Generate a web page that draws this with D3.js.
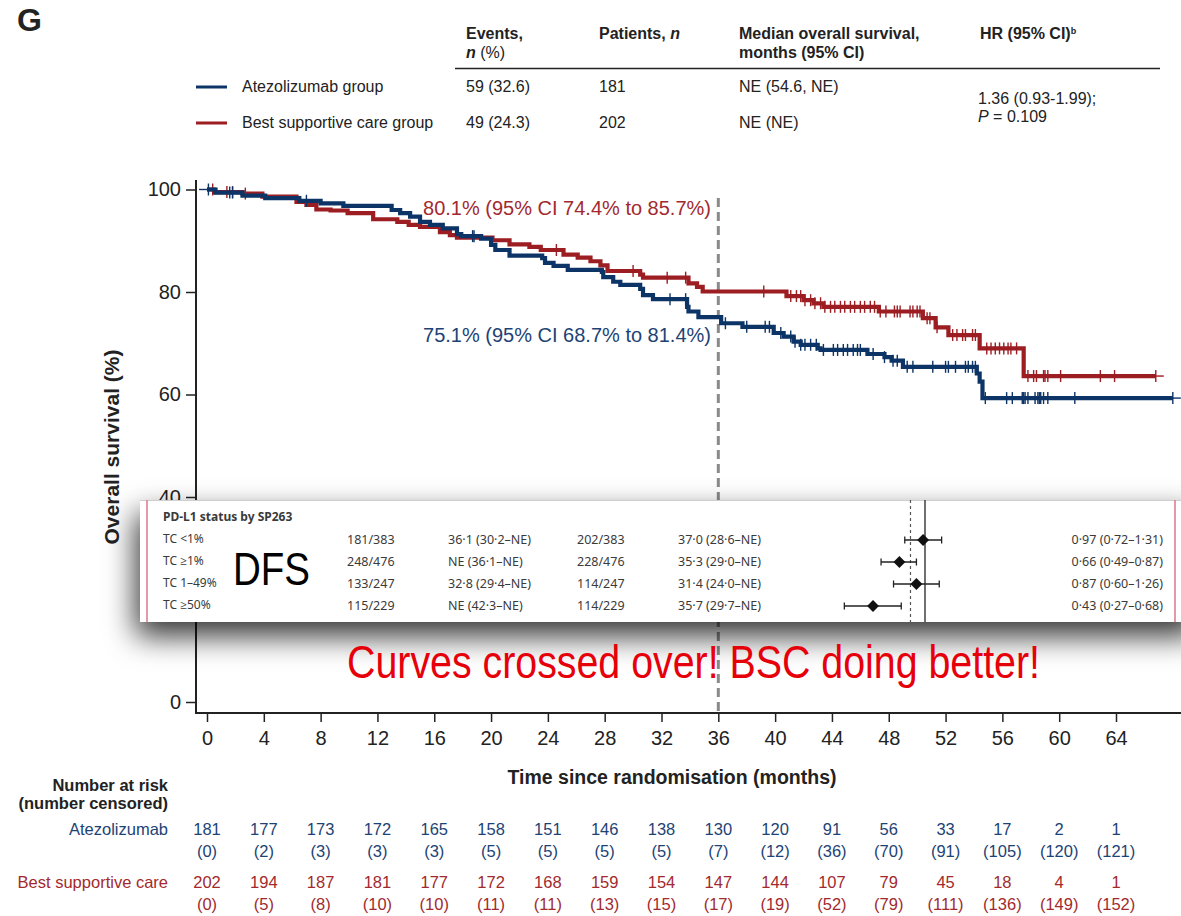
<!DOCTYPE html>
<html>
<head>
<meta charset="utf-8">
<script src="https://cdn.jsdelivr.net/npm/d3@7"></script>
<style>
  body { margin: 0; background: #fff; }
  svg { display: block; font-family: "Liberation Sans", Arial, sans-serif; }
  .narrow { font-family: "Liberation Sans Narrow", "Liberation Sans", Arial, sans-serif; }
  .inset { font-family: "Noto Sans", "Open Sans", sans-serif; fill: #3a3a3a; }
</style>
</head>
<body>
<div id="chart"></div>
<script>
// ---- data ----
const xTicks = [0, 4, 8, 12, 16, 20, 24, 28, 32, 36, 40, 44, 48, 52, 56, 60, 64];
const yTicks = [0, 20, 40, 60, 80, 100];

// Kaplan-Meier steps (months, % surviving)
const atezoTime = [0, 0.6, 2.5, 4.1, 6.5, 8.0, 9.6, 13.0, 13.6, 14.3, 15.0, 15.7, 16.6, 17.6, 17.9, 19.3, 20.0, 20.3, 21.3, 23.6, 23.8, 24.4, 25.4, 27.8, 27.9, 28.6, 29.1, 30.5, 30.7, 31.4, 33.8, 33.9, 34.6, 36.2, 37.7, 39.9, 40.6, 41.3, 41.8, 43.0, 43.2, 46.5, 47.7, 48.2, 49.0, 54.2, 54.4, 54.6, 68.0];
const atezoSurv = [100, 99.4, 98.8, 98.3, 97.8, 97.3, 96.8, 96.0, 95.4, 94.7, 93.7, 93.1, 92.4, 91.3, 90.9, 90.4, 89.2, 88.2, 87.1, 86.6, 85.7, 85.1, 84.3, 83.9, 82.9, 82.0, 81.4, 80.6, 79.4, 78.6, 77.1, 76.2, 75.1, 73.9, 73.2, 72.0, 71.3, 70.3, 69.7, 69.0, 68.7, 67.9, 67.3, 66.6, 65.4, 64.1, 62.5, 59.3, 59.3];
const bscTime = [0, 0.5, 2.5, 3.9, 6.3, 7.0, 7.7, 8.7, 9.9, 11.7, 13.4, 14.2, 15.0, 16.4, 17.1, 17.6, 20.1, 21.3, 22.7, 23.5, 25.1, 26.1, 27.0, 27.7, 28.2, 30.5, 30.7, 33.9, 34.5, 34.9, 40.8, 42.0, 42.7, 43.4, 47.3, 50.4, 51.3, 52.2, 54.4, 57.5, 66.8];
const bscSurv = [100, 99.5, 99.2, 98.6, 97.6, 97.0, 96.1, 95.9, 95.4, 94.2, 93.7, 93.1, 92.7, 91.7, 91.1, 90.6, 90.1, 89.3, 88.8, 88.2, 87.3, 86.7, 86.0, 85.2, 84.1, 83.4, 82.8, 81.7, 81.0, 80.1, 79.2, 78.4, 77.8, 77.1, 76.2, 74.9, 73.1, 71.6, 69.0, 63.6, 63.6];

// censoring marks (months)
const atezoCensor = [0.1, 1.6, 1.8, 7.0, 18.7, 18.8, 32.6, 33.7, 36.5, 38.0, 39.3, 39.6, 40.4, 41.1, 41.4, 41.8, 42.1, 42.5, 42.9, 43.4, 44.1, 44.4, 44.8, 45.1, 45.5, 45.8, 46.0, 46.9, 47.7, 48.3, 48.6, 49.3, 49.7, 51.1, 52.0, 52.2, 52.7, 53.4, 53.6, 53.9, 54.1, 54.8, 56.3, 56.7, 57.4, 57.5, 57.6, 57.8, 58.3, 58.5, 58.6, 58.7, 58.9, 59.2, 61.1, 68.0];
const bscCensor = [0.4, 1.4, 1.8, 2.7, 24.6, 30.0, 32.4, 33.7, 39.2, 41.1, 41.5, 41.8, 42.1, 42.5, 42.8, 43.2, 43.5, 43.9, 44.2, 44.6, 44.9, 45.3, 45.6, 46.0, 46.3, 46.7, 47.0, 47.4, 47.8, 48.4, 48.6, 48.8, 49.5, 49.7, 50.0, 50.2, 50.7, 50.9, 51.4, 52.5, 52.8, 53.2, 53.4, 53.9, 54.1, 54.9, 55.2, 55.5, 55.8, 56.1, 56.4, 56.6, 57.0, 57.8, 58.2, 58.4, 58.9, 59.0, 59.2, 60.1, 62.9, 63.9, 66.8];

// number at risk (number censored)
const riskAtezo = [181, 177, 173, 172, 165, 158, 151, 146, 138, 130, 120, 91, 56, 33, 17, 2, 1];
const censAtezo = [0, 2, 3, 3, 3, 5, 5, 5, 5, 7, 12, 36, 70, 91, 105, 120, 121];
const riskBsc = [202, 194, 187, 181, 177, 172, 168, 159, 154, 147, 144, 107, 79, 45, 18, 4, 1];
const censBsc = [0, 5, 8, 10, 10, 11, 11, 13, 15, 17, 19, 52, 79, 111, 136, 149, 152];

// summary table
const groupNames = ["Atezolizumab group", "Best supportive care group"];
const groupEvents = ["59 (32.6)", "49 (24.3)"];
const groupPatients = ["181", "202"];
const groupMedian = ["NE (54.6, NE)", "NE (NE)"];

// pasted PD-L1 subgroup panel
const pdl1Labels = ["TC <1%", "TC ≥1%", "TC 1–49%", "TC ≥50%"];
const pdl1AtezoN = ["181/383", "248/476", "133/247", "115/229"];
const pdl1AtezoMed = ["36·1 (30·2–NE)", "NE (36·1–NE)", "32·8 (29·4–NE)", "NE (42·3–NE)"];
const pdl1BscN = ["202/383", "228/476", "114/247", "114/229"];
const pdl1BscMed = ["37·0 (28·6–NE)", "35·3 (29·0–NE)", "31·4 (24·0–NE)", "35·7 (29·7–NE)"];
const pdl1Hr = [0.97, 0.66, 0.87, 0.43];
const pdl1Lo = [0.72, 0.49, 0.60, 0.27];
const pdl1Hi = [1.31, 0.87, 1.26, 0.68];
const pdl1HrText = ["0·97 (0·72–1·31)", "0·66 (0·49–0·87)", "0·87 (0·60–1·26)", "0·43 (0·27–0·68)"];
const overallHr = 0.79;

const BLUE = "#0c3466";
const RED = "#9c1d22";
const BLUE_TXT = "#1d4375";
const RED_TXT = "#a22a2e";

const W = 1181, H = 916;
const svg = d3.select("#chart").append("svg").attr("width", W).attr("height", H);

const x = d3.scaleLinear().domain([0, 64]).range([207, 1116]);
const y = d3.scaleLinear().domain([0, 100]).range([702, 189.5]);

// ---- header ----
svg.append("text").attr("x", 17).attr("y", 31).attr("font-size", 32).attr("font-weight", "bold").attr("fill", "#222").text("G");

const head = svg.append("g").attr("font-size", 16).attr("font-weight", "bold").attr("fill", "#222");
head.append("text").attr("x", 466).attr("y", 39).text("Events,");
const n2 = head.append("text").attr("x", 466).attr("y", 58);
n2.append("tspan").attr("font-style", "italic").text("n");
n2.append("tspan").attr("font-weight", "normal").text(" (%)");
const pt = head.append("text").attr("x", 599).attr("y", 39);
pt.append("tspan").text("Patients, ");
pt.append("tspan").attr("font-style", "italic").text("n");
head.append("text").attr("x", 739).attr("y", 39).text("Median overall survival,");
head.append("text").attr("x", 739).attr("y", 58).text("months (95% CI)");
const hrh = head.append("text").attr("x", 980).attr("y", 39);
hrh.append("tspan").text("HR (95% CI)");
hrh.append("tspan").attr("font-size", 9).attr("dy", -5).text("b");
svg.append("line").attr("x1", 455).attr("x2", 1160).attr("y1", 68.5).attr("y2", 68.5).attr("stroke", "#222").attr("stroke-width", 1.3);

const rowY = [92, 128];
const rowCol = [BLUE, RED];
rowY.forEach((ry, i) => {
  svg.append("line").attr("x1", 196).attr("x2", 227).attr("y1", ry - 5).attr("y2", ry - 5).attr("stroke", rowCol[i]).attr("stroke-width", 3);
  const g = svg.append("g").attr("font-size", 16).attr("fill", "#222");
  g.append("text").attr("x", 242).attr("y", ry).text(groupNames[i]);
  g.append("text").attr("x", 466).attr("y", ry).text(groupEvents[i]);
  g.append("text").attr("x", 599).attr("y", ry).text(groupPatients[i]);
  g.append("text").attr("x", 739).attr("y", ry).text(groupMedian[i]);
});
svg.append("text").attr("x", 978).attr("y", 104).attr("font-size", 16).attr("fill", "#222").text("1.36 (0.93-1.99);");
const pv = svg.append("text").attr("x", 978).attr("y", 122).attr("font-size", 16).attr("fill", "#222");
pv.append("tspan").attr("font-style", "italic").text("P");
pv.append("tspan").text(" = 0.109");

// ---- axes ----
const yAxis = svg.append("g").attr("transform", "translate(196,0)")
  .call(d3.axisLeft(y).tickValues(yTicks).tickSize(10).tickPadding(5));
yAxis.select(".domain").remove();
yAxis.selectAll(".tick line").attr("stroke", "#222").attr("stroke-width", 1.5);
yAxis.selectAll(".tick text").attr("font-size", 20).attr("fill", "#222").attr("font-family", "Liberation Sans, Arial, sans-serif");
// the 20 label sits under the pasted panel in the original, so it is not shown
yAxis.selectAll(".tick").filter(d => d === 20).select("text").remove();
svg.append("line").attr("x1", 196).attr("x2", 196).attr("y1", 180).attr("y2", 714).attr("stroke", "#222").attr("stroke-width", 2);

const xAxis = svg.append("g").attr("transform", "translate(0,713)")
  .call(d3.axisBottom(x).tickValues(xTicks).tickSize(9).tickPadding(9));
xAxis.select(".domain").remove();
xAxis.selectAll(".tick line").attr("stroke", "#222").attr("stroke-width", 1.5);
xAxis.selectAll(".tick text").attr("font-size", 20).attr("fill", "#222").attr("class", "narrow");
svg.append("line").attr("x1", 195).attr("x2", W).attr("y1", 713).attr("y2", 713).attr("stroke", "#222").attr("stroke-width", 2);

svg.append("text").attr("transform", "translate(119,447) rotate(-90)").attr("text-anchor", "middle")
  .attr("font-size", 21).attr("font-weight", "bold").attr("fill", "#222").text("Overall survival (%)");
svg.append("text").attr("x", 672).attr("y", 784).attr("text-anchor", "middle")
  .attr("font-size", 19.5).attr("font-weight", "bold").attr("fill", "#222").text("Time since randomisation (months)");

// landmark line at 36 months
svg.append("line").attr("x1", x(36)).attr("x2", x(36)).attr("y1", 198).attr("y2", 713)
  .attr("stroke", "#8a8a8a").attr("stroke-width", 3).attr("stroke-dasharray", "9,5");

// ---- KM curves ----
function stepAt(times, surv, t) {
  let v = surv[0];
  for (let i = 0; i < times.length; i++) { if (times[i] <= t) v = surv[i]; }
  return v;
}
const line = d3.line().x(d => x(d[0])).y(d => y(d[1])).curve(d3.curveStepAfter);
function drawCurve(times, surv, censor, color) {
  const pts = times.map((t, i) => [t, surv[i]]);
  svg.append("path").attr("d", line(pts)).attr("fill", "none").attr("stroke", color).attr("stroke-width", 4.2);
  svg.append("g").selectAll("line").data(censor).join("line")
    .attr("x1", d => x(d)).attr("x2", d => x(d))
    .attr("y1", d => y(stepAt(times, surv, d)) - 6).attr("y2", d => y(stepAt(times, surv, d)) + 6)
    .attr("stroke", color).attr("stroke-width", 1.4);
  svg.append("line").attr("x1", x(times[times.length - 1]) - 3).attr("x2", x(times[times.length - 1]) + 8)
    .attr("y1", y(surv[surv.length - 1])).attr("y2", y(surv[surv.length - 1])).attr("stroke", color).attr("stroke-width", 1.4);
}
drawCurve(bscTime, bscSurv, bscCensor, RED);
drawCurve(atezoTime, atezoSurv, atezoCensor, BLUE);
svg.append("line").attr("x1", x(0) - 8).attr("x2", x(0)).attr("y1", y(100)).attr("y2", y(100)).attr("stroke", BLUE).attr("stroke-width", 1.4);

svg.append("text").attr("x", 711).attr("y", 215).attr("text-anchor", "end").attr("font-size", 20)
  .attr("fill", RED_TXT).text("80.1% (95% CI 74.4% to 85.7%)");
svg.append("text").attr("x", 711).attr("y", 342).attr("text-anchor", "end").attr("font-size", 20)
  .attr("fill", BLUE_TXT).text("75.1% (95% CI 68.7% to 81.4%)");

// ---- pasted subgroup panel with drop shadow ----
const defs = svg.append("defs");
const f = defs.append("filter").attr("id", "shadow").attr("x", "-20%").attr("y", "-30%").attr("width", "140%").attr("height", "200%");
f.append("feDropShadow").attr("dx", -4).attr("dy", 14).attr("stdDeviation", 15)
  .attr("flood-color", "#000").attr("flood-opacity", 0.8);

const box = { x0: 140, x1: 1181, y0: 500, y1: 622 };
svg.append("rect").attr("x", box.x0).attr("y", box.y0).attr("width", box.x1 - box.x0 + 20).attr("height", box.y1 - box.y0)
  .attr("fill", "#fff").attr("filter", "url(#shadow)");
svg.append("rect").attr("x", box.x0).attr("y", box.y0).attr("width", box.x1 - box.x0).attr("height", box.y1 - box.y0).attr("fill", "#fff");
svg.append("line").attr("x1", box.x0).attr("x2", box.x1).attr("y1", box.y0 + 0.5).attr("y2", box.y0 + 0.5).attr("stroke", "#cfcfcf");
svg.append("line").attr("x1", 147).attr("x2", 147).attr("y1", box.y0).attr("y2", box.y1).attr("stroke", "#d9788c").attr("stroke-width", 1.5);
svg.append("line").attr("x1", 1175).attr("x2", 1175).attr("y1", box.y0).attr("y2", box.y1).attr("stroke", "#d9788c").attr("stroke-width", 1.5);

const ins = svg.append("g").attr("class", "inset").attr("font-size", 12.5);
ins.append("text").attr("x", 163).attr("y", 521).attr("font-weight", "bold").attr("font-size", 12).text("PD-L1 status by SP263");
const rowsY = [544, 566, 588, 610];
pdl1Labels.forEach((lab, i) => {
  const ry = rowsY[i];
  ins.append("text").attr("x", 163).attr("y", ry - 1).attr("font-size", 12).text(lab);
  ins.append("text").attr("x", 347).attr("y", ry).text(pdl1AtezoN[i]);
  ins.append("text").attr("x", 448).attr("y", ry).text(pdl1AtezoMed[i]);
  ins.append("text").attr("x", 577).attr("y", ry).text(pdl1BscN[i]);
  ins.append("text").attr("x", 678).attr("y", ry).text(pdl1BscMed[i]);
  ins.append("text").attr("x", 1163).attr("y", ry).attr("text-anchor", "end").text(pdl1HrText[i]);
});

const hrX = d3.scaleLog().domain([0.2, 1.5]).range([925 - Math.log(5) * 61.6, 925 + Math.log(1.5) * 61.6]);
svg.append("line").attr("x1", hrX(1)).attr("x2", hrX(1)).attr("y1", box.y0).attr("y2", box.y1).attr("stroke", "#222").attr("stroke-width", 1.3);
svg.append("line").attr("x1", hrX(overallHr)).attr("x2", hrX(overallHr)).attr("y1", box.y0).attr("y2", box.y1)
  .attr("stroke", "#555").attr("stroke-width", 1.2).attr("stroke-dasharray", "3,3");
const forest = svg.append("g").attr("stroke", "#222").attr("stroke-width", 1.3);
pdl1Hr.forEach((h, i) => {
  const cy = rowsY[i] - 4;
  forest.append("line").attr("x1", hrX(pdl1Lo[i])).attr("x2", hrX(pdl1Hi[i])).attr("y1", cy).attr("y2", cy);
  forest.append("line").attr("x1", hrX(pdl1Lo[i])).attr("x2", hrX(pdl1Lo[i])).attr("y1", cy - 3.5).attr("y2", cy + 3.5);
  forest.append("line").attr("x1", hrX(pdl1Hi[i])).attr("x2", hrX(pdl1Hi[i])).attr("y1", cy - 3.5).attr("y2", cy + 3.5);
  forest.append("path").attr("d", d3.symbol(d3.symbolDiamond2, 90)()).attr("transform", `translate(${hrX(h)},${cy})`)
    .attr("fill", "#111").attr("stroke", "none");
});

svg.append("text").attr("x", 233).attr("y", 585).attr("class", "narrow").attr("font-size", 46)
  .attr("textLength", 77).attr("lengthAdjust", "spacingAndGlyphs").attr("fill", "#000").text("DFS");

svg.append("text").attr("x", 347).attr("y", 678).attr("class", "narrow").attr("font-size", 46)
  .attr("textLength", 693).attr("lengthAdjust", "spacingAndGlyphs").attr("fill", "#e6000a")
  .text("Curves crossed over! BSC doing better!");

// ---- number at risk ----
const risk = svg.append("g").attr("font-size", 16.5);
risk.append("text").attr("x", 168).attr("y", 791).attr("text-anchor", "end").attr("font-weight", "bold").attr("font-size", 16.5).attr("fill", "#222").text("Number at risk");
risk.append("text").attr("x", 168).attr("y", 809).attr("text-anchor", "end").attr("font-weight", "bold").attr("font-size", 16.5).attr("fill", "#222").text("(number censored)");
risk.append("text").attr("x", 168).attr("y", 835).attr("text-anchor", "end").attr("fill", BLUE_TXT).text("Atezolizumab");
risk.append("text").attr("x", 168).attr("y", 888).attr("text-anchor", "end").attr("fill", RED_TXT).text("Best supportive care");
function riskRow(vals, yy, color, paren) {
  risk.append("g").selectAll("text").data(vals).join("text")
    .attr("x", (d, i) => x(xTicks[i])).attr("y", yy).attr("text-anchor", "middle").attr("fill", color)
    .text(d => paren ? `(${d})` : d);
}
riskRow(riskAtezo, 835, BLUE_TXT, false);
riskRow(censAtezo, 857, BLUE_TXT, true);
riskRow(riskBsc, 888, RED_TXT, false);
riskRow(censBsc, 910, RED_TXT, true);
</script>
</body>
</html>
